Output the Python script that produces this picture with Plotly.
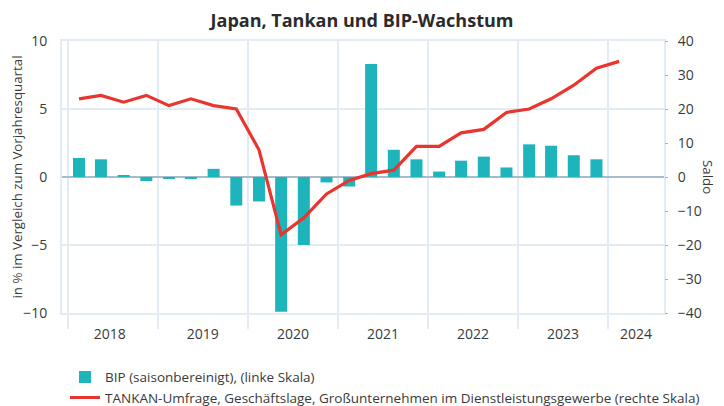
import plotly.graph_objects as go

# Data
quarters = ["2018-02-15", "2018-05-15", "2018-08-15", "2018-11-15",
            "2019-02-15", "2019-05-15", "2019-08-15", "2019-11-15",
            "2020-02-15", "2020-05-15", "2020-08-15", "2020-11-15",
            "2021-02-15", "2021-05-15", "2021-08-15", "2021-11-15",
            "2022-02-15", "2022-05-15", "2022-08-15", "2022-11-15",
            "2023-02-15", "2023-05-15", "2023-08-15", "2023-11-15",
            "2024-02-15"]
bip = [1.4, 1.3, 0.1, -0.3, -0.1, -0.1, 0.6, -2.1,
       -1.8, -9.9, -5.0, -0.4, -0.7, 8.3, 2.0, 1.3,
       0.4, 1.2, 1.5, 0.7, 2.4, 2.3, 1.6, 1.3]
tankan = [23, 24, 22, 24, 21, 23, 21, 20,
          8, -17, -12, -5, -1, 1, 2, 9,
          9, 13, 14, 19, 20, 23, 27, 32, 34]
year_labels = ["2018", "2019", "2020", "2021", "2022", "2023", "2024"]
year_label_pos = ["2018-06-20", "2019-07-02", "2020-07-02", "2021-07-02",
                  "2022-07-02", "2023-07-02", "2024-04-23"]

TEAL = "#1db4bc"
RED = "#e8352e"
GRID = "#e3ecf5"
FONT = "Open Sans"
TXT = "#3a3a3a"

fig = go.Figure()
fig.add_trace(go.Bar(
    x=quarters[:len(bip)], y=bip, name="BIP (saisonbereinigt), (linke Skala)",
    marker=dict(color=TEAL, line=dict(width=0)), legendgroup="a",
    width=[48.7 * 86400000] * len(bip), yaxis="y"))
fig.add_trace(go.Scatter(
    x=quarters, y=tankan, mode="lines", legendgroup="b",
    name="TANKAN-Umfrage, Geschäftslage, Großunternehmen im Dienstleistungsgewerbe (rechte Skala)",
    line=dict(color=RED, width=3.2), yaxis="y2"))

fig.update_layout(
    width=724, height=406,
    margin=dict(l=54, r=68, t=33, b=101, autoexpand=False),
    paper_bgcolor="white", plot_bgcolor="white",
    font=dict(family=FONT, size=14, color=TXT),
    title=dict(text="<b>Japan, Tankan und BIP-Wachstum</b>", x=(362 - 8) / 724, xanchor="center",
               yref="container", y=0.984, yanchor="top", pad=dict(t=0, b=0),
               font=dict(family=FONT, size=18, color="#2b2b2b")),
    showlegend=True,
    legend=dict(orientation="v", x=0.005, xanchor="left", y=-0.179, yanchor="top",
                font=dict(family=FONT, size=13.5, color=TXT), bgcolor="rgba(0,0,0,0)",
                tracegroupgap=0, itemwidth=30),
    xaxis=dict(type="date", range=["2017-12-08", "2024-08-15"],
               tickmode="array", tickvals=year_label_pos, ticktext=year_labels,
               ticks="", showgrid=False, zeroline=False,
               showline=True, mirror=True, linecolor=GRID, linewidth=2,
               ticklabelstandoff=7, tickfont=dict(size=14, color=TXT),
               minor=dict(tick0="2018-01-01", dtick="M12", showgrid=True,
                          gridcolor=GRID, gridwidth=2, ticks="outside",
                          ticklen=14, tickcolor=GRID, tickwidth=2)),
    yaxis=dict(range=[-10, 10], tickvals=[-10, -5, 0, 5, 10],
               showgrid=True, gridcolor=GRID, gridwidth=2,
               showline=True, mirror=True, linecolor=GRID, linewidth=2,
               zeroline=True, zerolinecolor="#a6bccb", zerolinewidth=2,
               ticks="", ticklabelstandoff=10, tickfont=dict(size=14, color=TXT),
               title=dict(text="in % im Vergleich zum Vorjahresquartal",
                          font=dict(size=13.3, color=TXT), standoff=1)),
    yaxis2=dict(range=[-40, 40], tickvals=[-40, -30, -20, -10, 0, 10, 20, 30, 40],
                overlaying="y", side="right", showgrid=False, zeroline=False,
                ticks="outside", ticklen=3, tickcolor="#b0b0b0", tickwidth=1,
                ticklabelstandoff=7, tickfont=dict(size=14, color=TXT)),
    bargap=0.45,
)

fig.add_annotation(text="Saldo", textangle=90, x=1.073, y=0.5, xref="paper", yref="paper",
                   xanchor="center", yanchor="middle", showarrow=False,
                   font=dict(family=FONT, size=13.3, color=TXT))

fig.write_html("out.html")
